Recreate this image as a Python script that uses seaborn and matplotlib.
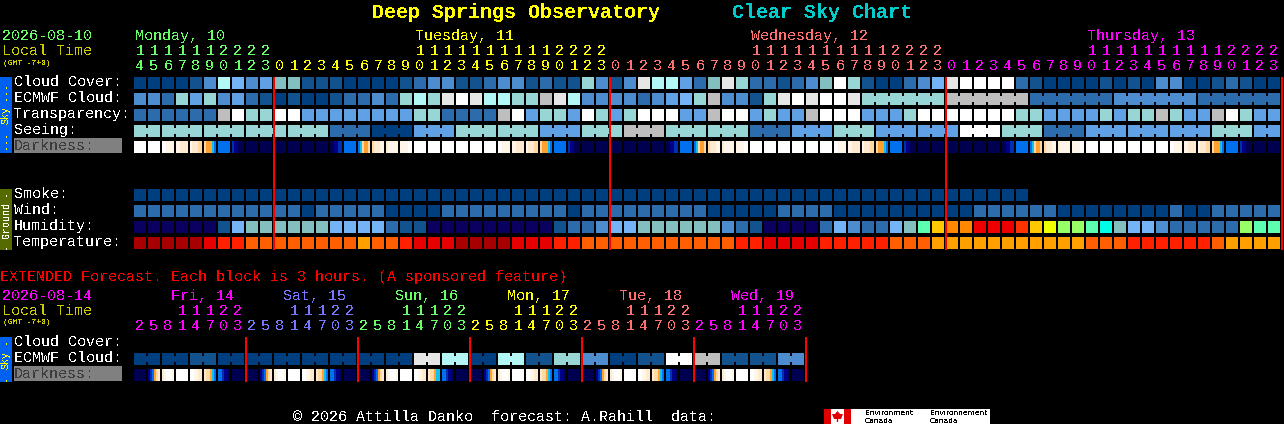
# Clear sky chart for Deep Springs Observatory, drawn as one row heatmap per forecast line
import matplotlib
matplotlib.use('Agg')
import matplotlib.pyplot as plt
import numpy as np
import seaborn as sns
from matplotlib.colors import ListedColormap
from matplotlib.patches import Polygon, Rectangle

WIDTH, HEIGHT = 1284, 424

# Palette index -> colour. 0-12 sky blues, 13+ temperature and humidity, 26+ darkness
palette = ['#003F7F', '#11528F', '#2C6CAC', '#4C8CCF', '#60A0E4', '#74B4F6', '#83BFBF', '#98D6D6',
           '#B2F6F6', '#E6E6E6', '#FFFFFF', '#BEBEBE', '#0A005F', '#A80000', '#E60000', '#FF2000',
           '#FF5F00', '#FFA000', '#FFC800', '#EEFF00', '#99FF66', '#5CFFB0', '#00FFE6', '#FF8800',
           '#EE0000', '#FF3300',
           '#FFFFFF', '#FFF5E8', '#FFEAD0', '#FFD8A4', '#FFA030', '#10C0F0', '#0070EE', '#0030B0',
           '#000088', '#000050']
DARK = 26

cloud_cover = [0, 0, 0, 0, 1, 3, 8, 5, 3, 4, 6, 6, 1, 1, 1, 0, 0, 0, 0, 1, 2,
               3, 3, 1, 1, 2, 3, 3, 1, 2, 1, 1, 7, 3, 1, 3, 9, 8, 8, 4, 2, 6, 9, 7, 2, 2, 1, 2, 3, 6, 10, 7,
               1, 0, 0, 2, 3, 5, 9, 10, 10, 10, 10, 2, 1, 0, 0, 0, 0, 1, 0, 1, 0, 3, 3, 0, 0, 1, 2, 1, 0, 0]

# ECMWF cloud changes to six hour blocks after the first 52 hours
ecmwf_cloud = [3, 3, 2, 7, 4, 7, 3, 4, 2, 1, 0, 1, 0, 0, 1, 2, 2, 3, 2, 7, 8,
               7, 9, 10, 9, 8, 8, 7, 7, 11, 9, 8, 3, 3, 3, 3, 2, 3, 4, 5, 7, 11, 3, 3, 1, 7, 9, 10, 9, 10, 10, 9,
               7, 11, 2, 3, 2]
ecmwf_blocks = [1] * 52 + [6] * 5

transparency = [2, 2, 2, 2, 2, 2, 11, 10, 7, 7, 10, 10, 4, 4, 4, 4, 4, 4, 4, 4, 7,
                7, 2, 2, 2, 2, 11, 10, 4, 7, 7, 4, 10, 7, 4, 7, 10, 10, 10, 4, 4, 11, 10, 10, 4, 7, 4, 4, 11, 10, 10, 10,
                4, 4, 4, 7, 10, 10, 10, 10, 10, 10, 10, 7, 7, 4, 4, 4, 4, 7, 4, 7, 7, 11, 7, 4, 4, 11, 10, 7, 4, 4]

seeing = [7, 7, 7, 7, 7, 2, 0, 4, 7, 7, 4, 7, 11, 7, 7, 2, 4, 7, 4, 4, 10, 7, 2, 4, 4, 4, 7, 4]
seeing_blocks = [2] + [3] * 26 + [2]

# one digit string per hour, six samples across each block
darkness = ['000000', '000000', '001111', '112222', '122233', '344456', '666666', '788999',
            '999999', '999999', '999999', '999999', '999999', '999999', '998877', '666666',
            '653443', '322211', '211111', '111100', '000000',
            '000000', '000000', '000000', '000000', '000000', '001111', '112222', '122233', '344456', '666666', '788999',
            '999999', '999999', '999999', '999999', '999999', '999999', '998877', '666666',
            '653443', '322211', '211111', '111100', '000000', '000000', '000000', '000000', '000000', '000000',
            '001111', '112222', '122233', '344456', '666666', '788999',
            '999999', '999999', '999999', '999999', '999999', '999999', '998877', '666666',
            '653443', '322211', '211111', '111100', '000000', '000000', '000000', '000000', '000000', '000000',
            '001111', '112222', '122233', '344456', '666666', '788999', '999999', '999999']

smoke = [0] * 64

wind = [2, 2, 2, 2, 2, 2, 2, 2, 2, 2, 2, 2, 0, 2, 2, 2, 2, 2, 0, 0, 0,
        0, 2, 2, 2, 2, 2, 2, 2, 2, 2, 0, 2, 2, 2, 2, 2, 2, 2, 2, 2, 0, 0, 0, 0, 0, 2, 2, 2, 2, 0, 0,
        0, 0, 0, 0, 0, 0, 0, 0, 2, 2, 2, 2, 2, 2, 0, 0, 0, 0, 0, 0, 0, 0, 2, 0, 0, 2, 2, 2, 2, 2]

humidity = [12, 12, 12, 12, 12, 12, 1, 5, 6, 6, 6, 6, 6, 6, 5, 5, 5, 5, 2, 1, 1,
            12, 12, 12, 12, 12, 12, 12, 12, 12, 1, 2, 2, 3, 5, 5, 6, 6, 6, 6, 6, 6, 3, 2, 1, 12, 12, 12, 12, 2, 5, 3,
            2, 2, 5, 6, 21, 18, 23, 23, 24, 24, 24, 25, 18, 19, 20, 20, 21, 22, 6, 5, 5, 3, 2, 2, 2, 2, 2, 20, 21, 21]

temperature = [13, 13, 13, 13, 13, 14, 15, 15, 16, 16, 16, 16, 16, 16, 16, 16, 17, 16, 16, 15, 14,
               14, 14, 13, 13, 13, 13, 14, 14, 14, 15, 15, 16, 16, 16, 16, 16, 16, 16, 16, 16, 16, 16, 15, 15, 14, 14, 14, 14, 15, 15, 15,
               15, 15, 16, 16, 16, 17, 17, 17, 17, 17, 17, 17, 17, 17, 17, 17, 16, 16, 16, 15, 15, 15, 15, 15, 15, 16, 17, 17, 17, 17]

hour_days = [10, 24, 24, 24]
hour_start = 14
day_names = ['Monday, 10', 'Tuesday, 11', 'Wednesday, 12', 'Thursday, 13']
day_colors = ['#66FF66', '#FFFF00', '#FF7070', '#FF00FF']

# Extended forecast, three hours per block
ext_hours = [2, 5, 8, 11, 14, 17, 20, 23]
ext_names = ['Fri, 14', 'Sat, 15', 'Sun, 16', 'Mon, 17', 'Tue, 18', 'Wed, 19']
ext_colors = ['#FF00FF', '#7777FF', '#66FF66', '#FFFF00', '#FF7070', '#FF00FF']
ext_ecmwf = [0, 0, 1, 0, 0, 0, 0, 0, 0, 0, 9, 8, 0, 8, 1, 7, 3, 0, 1, 10, 11, 1, 1, 3]
ext_blocks = [2] * 24
ext_darkness = ['999999', '876432', '210001', '000000', '001122', '233456', '667889', '999999',
                '999999', '876432', '210001', '000000', '001122', '233456', '667889', '999999',
                '999999', '876432', '210001', '000000', '001122', '233455', '667889', '999999',
                '999999', '876432', '210001', '000000', '001122', '233456', '667889', '999999',
                '999999', '876432', '210001', '000000', '001122', '233456', '667889', '999999',
                '999999', '876432', '210001', '000000', '001122', '233456', '667889', '999999']

LEFT, PITCH, SUB = 134, 14, 7
cmap = ListedColormap(palette)


def row_matrix(values, blocks=None):
    """Four strips by seven sub columns per hour: outer strips keep the notch between joined hours."""
    if blocks is None:
        blocks = [1] * len(values)
    hours = sum(blocks)
    mat = np.full((4, hours * SUB), np.nan)
    col = 0
    for value, size in zip(values, blocks):
        for k in range(size):
            mat[:, col * SUB:col * SUB + SUB - 1] = value
            if k < size - 1:
                mat[1:3, col * SUB + SUB - 1] = value
            col += 1
    return mat


def dark_matrix(rows):
    mat = np.full((4, len(rows) * SUB), np.nan)
    for i, row in enumerate(rows):
        mat[:, i * SUB:i * SUB + SUB - 1] = [DARK + int(c) for c in row]
    return mat


def draw_row(fig, mat, top):
    w = mat.shape[1] * 2
    ax = fig.add_axes([LEFT / WIDTH, 1 - (top + 12) / HEIGHT, w / WIDTH, 12 / HEIGHT])
    sns.heatmap(mat, ax=ax, cmap=cmap, vmin=-0.5, vmax=len(palette) - 0.5, cbar=False,
                mask=np.isnan(mat), xticklabels=False, yticklabels=False)
    ax.set_facecolor('black')
    return ax


sns.set_theme(style='dark')
plt.rcParams['font.family'] = ['Liberation Mono', 'DejaVu Sans Mono']
plt.rcParams['text.antialiased'] = False
plt.rcParams['figure.facecolor'] = 'black'

fig = plt.figure(figsize=(WIDTH / 100, HEIGHT / 100), dpi=100, facecolor='black')

# Main forecast rows
draw_row(fig, row_matrix(cloud_cover), 77)
draw_row(fig, row_matrix(ecmwf_cloud, ecmwf_blocks), 93)
draw_row(fig, row_matrix(transparency), 109)
draw_row(fig, row_matrix(seeing, seeing_blocks), 125)
draw_row(fig, dark_matrix(darkness), 141)
draw_row(fig, row_matrix(smoke), 189)
draw_row(fig, row_matrix(wind), 205)
draw_row(fig, row_matrix(humidity), 221)
draw_row(fig, row_matrix(temperature), 237)

# Extended rows
draw_row(fig, row_matrix(ext_ecmwf, ext_blocks), 353)
draw_row(fig, dark_matrix(ext_darkness), 369)

# Overlay in pixel coordinates for text, side bars and midnight lines
ov = fig.add_axes([0, 0, 1, 1], zorder=5)
ov.set_xlim(0, WIDTH)
ov.set_ylim(HEIGHT, 0)
ov.axis('off')
ov.patch.set_alpha(0)


def label(x, y, s, color='white', size=15, **kw):
    ov.text(x, y, s, color=color, fontsize=size * 0.72, va='baseline', **kw)


# Title
label(372, 18, 'Deep Springs Observatory', color='#FFFF00', size=20, fontweight='bold')
label(732, 18, 'Clear Sky Chart', color='#00CCCC', size=20, fontweight='bold')

# Date block
label(2, 40, '2026-08-10', color='#66FF66')
label(2, 55, 'Local Time', color='#CCCC00')
label(3, 65, '(GMT -7+0)', color='#CCCC00', size=8)

# Day names sit over the hour where the tens digit starts, colours change at midnight
col = 0
hour = hour_start
for d, (name, color, count) in enumerate(zip(day_names, day_colors, hour_days)):
    name_col = col if d == 0 else col + 10
    label(LEFT + name_col * PITCH + 1, 40, name, color=color)
    for k in range(count):
        cx = LEFT + col * PITCH + 6
        if hour >= 10:
            label(cx, 55, str(hour // 10), color=color, ha='center')
        label(cx, 70, str(hour % 10), color=color, ha='center')
        col += 1
        hour = (hour + 1) % 24

for y, s in zip([86, 102, 118, 134], ['Cloud Cover:', 'ECMWF Cloud:', 'Transparency:', 'Seeing:']):
    label(14, y, s)
ov.add_patch(Rectangle((14, 138), 108, 15, color='#808080', lw=0))
label(14, 150, 'Darkness:', color='#3C3C3C')
for y, s in zip([198, 214, 230, 246], ['Smoke:', 'Wind:', 'Humidity:', 'Temperature:']):
    label(14, y, s)

# Side bars
ov.add_patch(Rectangle((0, 77), 12, 76, color='#0060F0', lw=0))
ov.add_patch(Rectangle((0, 189), 12, 61, color='#556B00', lw=0))
ov.add_patch(Rectangle((0, 337), 12, 45, color='#0060F0', lw=0))
side = {'fontsize': 7.2, 'rotation': 90, 'ha': 'center', 'va': 'center'}
ov.text(6, 115, 'Sky', color='#FFFF00', **side)
ov.text(6, 91, '---', color='#FFFF00', **side)
ov.text(6, 140, '---', color='#FFFF00', **side)
ov.text(6, 220, 'Ground', color='white', **side)
ov.text(6, 193, '-', color='white', **side)
ov.text(6, 246, '-', color='white', **side)
ov.text(6, 360, 'Sky', color='#FFFF00', **side)
ov.text(6, 341, '-', color='#FFFF00', **side)
ov.text(6, 378, '-', color='#FFFF00', **side)

# Midnight lines
col = 0
for count in hour_days:
    col += count
    ov.add_patch(Rectangle((LEFT + col * PITCH - 1, 77), 2, 173, color='#FF0000', lw=0))

# Extended header
label(0, 281, 'EXTENDED Forecast. Each block is 3 hours. (A sponsored feature)', color='#FF0000')
label(2, 300, '2026-08-14', color='#FF00FF')
label(2, 315, 'Local Time', color='#CCCC00')
label(3, 324, '(GMT -7+0)', color='#CCCC00', size=8)
for d, (name, color) in enumerate(zip(ext_names, ext_colors)):
    base = LEFT + d * len(ext_hours) * PITCH
    label(base + 37, 300, name, color=color)
    for k, h in enumerate(ext_hours):
        cx = base + k * PITCH + 6
        if h >= 10:
            label(cx, 315, str(h // 10), color=color, ha='center')
        label(cx, 330, str(h % 10), color=color, ha='center')
    ov.add_patch(Rectangle((base + len(ext_hours) * PITCH - 1, 337), 2, 45, color='#FF0000', lw=0))

label(14, 346, 'Cloud Cover:')
label(14, 362, 'ECMWF Cloud:')
ov.add_patch(Rectangle((14, 366), 108, 15, color='#808080', lw=0))
label(14, 378, 'Darkness:', color='#3C3C3C')

# Footer and Environment Canada strip
label(293, 421, '\u00a9 2026 Attilla Danko  forecast: A.Rahill  data:')
ov.add_patch(Rectangle((824, 409), 166, 15, color='white', lw=0))
ov.add_patch(Rectangle((824, 409), 7, 15, color='#E00000', lw=0))
ov.add_patch(Rectangle((844, 409), 7, 15, color='#E00000', lw=0))
ov.add_patch(Polygon([(837.5, 411), (840, 414), (843, 414), (841, 419), (838.2, 419), (838.2, 422),
                      (836.8, 422), (836.8, 419), (834, 419), (832, 414), (835, 414)], color='#E00000', lw=0))
small = {'color': 'black', 'size': 7.5, 'fontfamily': 'DejaVu Sans'}
label(865, 415, 'Environment', **small)
label(865, 423, 'Canada', **small)
label(930, 415, 'Environnement', **small)
label(930, 423, 'Canada', **small)

fig.savefig('out.png', dpi=100, facecolor='black')
